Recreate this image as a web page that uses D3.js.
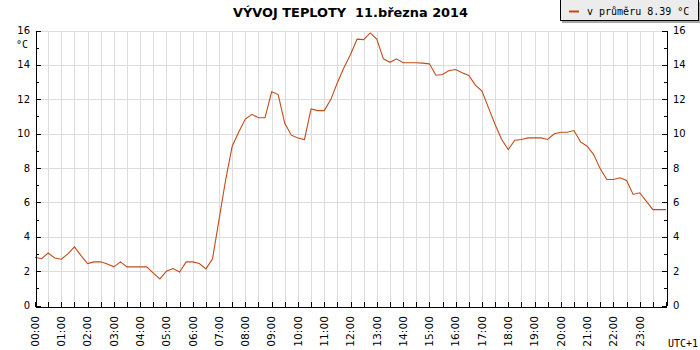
<!DOCTYPE html>
<html>
<head>
<meta charset="utf-8">
<script src="https://cdn.jsdelivr.net/npm/d3@7"></script>
<style>
    body { margin: 0; background: #fff; }
    svg { display: block; }
</style>
</head>
<body>
<svg id="mySvg" width="700" height="350"></svg>
<script>
var svgWidth = 700;
var svgHeight = 350;

var chartTitle = "VÝVOJ TEPLOTY  11.března 2014";
var legendLabel = "v průměru 8.39 °C";
var unitLabel = "°C";
var zoneLabel = "UTC+1";

// measured every 15 minutes
var times = [
    "00:00","00:15","00:30","00:45","01:00","01:15","01:30","01:45",
    "02:00","02:15","02:30","02:45","03:00","03:15","03:30","03:45",
    "04:00","04:15","04:30","04:45","05:00","05:15","05:30","05:45",
    "06:00","06:15","06:30","06:45","07:00","07:15","07:30","07:45",
    "08:00","08:15","08:30","08:45","09:00","09:15","09:30","09:45",
    "10:00","10:15","10:30","10:45","11:00","11:15","11:30","11:45",
    "12:00","12:15","12:30","12:45","13:00","13:15","13:30","13:45",
    "14:00","14:15","14:30","14:45","15:00","15:15","15:30","15:45",
    "16:00","16:15","16:30","16:45","17:00","17:15","17:30","17:45",
    "18:00","18:15","18:30","18:45","19:00","19:15","19:30","19:45",
    "20:00","20:15","20:30","20:45","21:00","21:15","21:30","21:45",
    "22:00","22:15","22:30","22:45","23:00","23:15","23:30","23:45",
    "24:00"
];
var temps = [
    2.81, 2.72, 3.05, 2.76, 2.69, 3.00, 3.41, 2.90,
    2.44, 2.54, 2.54, 2.42, 2.25, 2.54, 2.25, 2.25,
    2.25, 2.25, 1.88, 1.55, 2.00, 2.15, 1.95, 2.54,
    2.54, 2.44, 2.13, 2.70, 5.00, 7.30, 9.27, 10.10,
    10.85, 11.12, 10.92, 10.92, 12.43, 12.27, 10.60, 9.91,
    9.75, 9.66, 11.44, 11.34, 11.34, 11.98, 12.96, 13.83,
    14.60, 15.50, 15.47, 15.86, 15.50, 14.35, 14.15, 14.35,
    14.12, 14.12, 14.12, 14.10, 14.06, 13.40, 13.44, 13.67,
    13.73, 13.54, 13.38, 12.82, 12.47, 11.50, 10.53, 9.66,
    9.07, 9.62, 9.66, 9.75, 9.75, 9.75, 9.66, 9.99,
    10.08, 10.08, 10.18, 9.52, 9.27, 8.78, 7.95, 7.33,
    7.33, 7.43, 7.27, 6.46, 6.56, 6.07, 5.58, 5.58,
    5.58
];
var hourLabels = ["00:00","01:00","02:00","03:00","04:00","05:00","06:00","07:00",
    "08:00","09:00","10:00","11:00","12:00","13:00","14:00","15:00",
    "16:00","17:00","18:00","19:00","20:00","21:00","22:00","23:00"];
var yTicks = [0, 2, 4, 6, 8, 10, 12, 14, 16];

var lineColor = "#c04d18";
var gridColor = "#dcdcdc";

function toHours(s) {
    var p = s.split(":");
    return +p[0] + (+p[1]) / 60;
}

var data = times.map(function(t, i) {
    return { hour: toHours(t), temp: temps[i] };
});

var xScale = d3.scaleLinear()
    .domain([0, 24])
    .range([35, 666]);

var yScale = d3.scaleLinear()
    .domain([0, 16])
    .range([305.5, 30.5]);

function px(v) { return Math.round(v) + 0.5; }

var svg = d3.select("#mySvg");

// grid
var halfHours = d3.range(1, 48).map(function(i) { return i / 2; });
svg.append("g")
    .selectAll("line")
    .data(halfHours)
    .enter()
    .append("line")
    .attr("x1", d => px(xScale(d)))
    .attr("x2", d => px(xScale(d)))
    .attr("y1", px(yScale(16)))
    .attr("y2", px(yScale(0)))
    .attr("stroke", gridColor)
    .attr("shape-rendering", "crispEdges");

svg.append("g")
    .selectAll("line")
    .data(yTicks.slice(1))
    .enter()
    .append("line")
    .attr("x1", xScale(0))
    .attr("x2", xScale(24))
    .attr("y1", d => px(yScale(d)))
    .attr("y2", d => px(yScale(d)))
    .attr("stroke", gridColor)
    .attr("shape-rendering", "crispEdges");

// temperature line
var line = d3.line()
    .x(d => xScale(d.hour))
    .y(d => yScale(d.temp));

svg.append("path")
    .datum(data)
    .attr("d", line)
    .attr("fill", "none")
    .attr("stroke", lineColor)
    .attr("stroke-width", 1.1);

// axes
var minorY = d3.range(0, 17);
var leftAxis = d3.axisLeft(yScale)
    .tickValues(minorY)
    .tickSizeInner(-3)
    .tickSizeOuter(0)
    .tickFormat("");
var rightAxis = d3.axisRight(yScale)
    .tickValues(minorY)
    .tickSizeInner(-3)
    .tickSizeOuter(0)
    .tickFormat("");

var gl = svg.append("g")
    .attr("transform", "translate(" + px(xScale(0)) + ",0)")
    .call(leftAxis);
var gr = svg.append("g")
    .attr("transform", "translate(" + px(xScale(24)) + ",0)")
    .call(rightAxis);

[gl, gr].forEach(function(g) {
    g.selectAll(".tick line")
        .attr("x2", function(d) {
            var sgn = +d3.select(this).attr("x2") > 0 ? 1 : -1;
            return sgn * (d % 2 === 0 ? 5 : 3);
        });
});

var bottomAxis = d3.axisBottom(xScale)
    .tickValues(d3.range(0, 24.5, 0.5))
    .tickSizeInner(-5)
    .tickSizeOuter(0)
    .tickFormat("");
svg.append("g")
    .attr("transform", "translate(0," + px(yScale(0)) + ")")
    .call(bottomAxis);

svg.selectAll(".domain, .tick line")
    .attr("stroke", "#000")
    .attr("shape-rendering", "crispEdges");

// axis labels
svg.append("g")
    .selectAll("text")
    .data(yTicks)
    .enter()
    .append("text")
    .attr("x", 30)
    .attr("y", d => yScale(d) + 3.6)
    .attr("text-anchor", "end")
    .attr("font-family", "DejaVu Sans")
    .attr("font-size", 10)
    .attr("fill", "#000")
    .text(d => d);

svg.append("g")
    .selectAll("text")
    .data(yTicks)
    .enter()
    .append("text")
    .attr("x", 673)
    .attr("y", d => yScale(d) + 3.6)
    .attr("font-family", "DejaVu Sans")
    .attr("font-size", 10)
    .attr("fill", "#000")
    .text(d => d);

svg.append("g")
    .selectAll("text")
    .data(hourLabels)
    .enter()
    .append("text")
    .attr("transform", d => "translate(" + (xScale(toHours(d)) + 3.8) + ",316) rotate(-90)")
    .attr("text-anchor", "end")
    .attr("font-family", "DejaVu Sans")
    .attr("font-size", 10.7)
    .attr("fill", "#000")
    .text(d => d);

svg.append("text")
    .attr("x", 16)
    .attr("y", 47.5)
    .attr("font-family", "DejaVu Sans Mono")
    .attr("font-size", 10)
    .text(unitLabel);

svg.append("text")
    .attr("x", 668)
    .attr("y", 347)
    .attr("font-family", "DejaVu Sans Mono")
    .attr("font-size", 10)
    .text(zoneLabel);

// title
svg.append("text")
    .attr("x", 350.5)
    .attr("y", 16.5)
    .attr("text-anchor", "middle")
    .attr("font-family", "DejaVu Sans")
    .attr("font-weight", "bold")
    .attr("font-size", 12.3)
    .attr("textLength", 235)
    .attr("lengthAdjust", "spacingAndGlyphs")
    .style("white-space", "pre")
    .text(chartTitle);

// legend
var legend = svg.append("g").attr("class", "legend");
legend.append("rect")
    .attr("x", 562)
    .attr("y", 2)
    .attr("width", 140)
    .attr("height", 21)
    .attr("fill", "#a8a8a8");
legend.append("rect")
    .attr("x", 560.5)
    .attr("y", -0.5)
    .attr("width", 138)
    .attr("height", 21)
    .attr("fill", "#ececec")
    .attr("stroke", "#000")
    .attr("shape-rendering", "crispEdges");
legend.append("line")
    .attr("x1", 569)
    .attr("x2", 579)
    .attr("y1", 11.5)
    .attr("y2", 11.5)
    .attr("stroke", lineColor)
    .attr("stroke-width", 2);
legend.append("text")
    .attr("x", 587)
    .attr("y", 15)
    .attr("font-family", "DejaVu Sans Mono")
    .attr("font-size", 10)
    .attr("fill", "#000")
    .text(legendLabel);
</script>
</body>
</html>
